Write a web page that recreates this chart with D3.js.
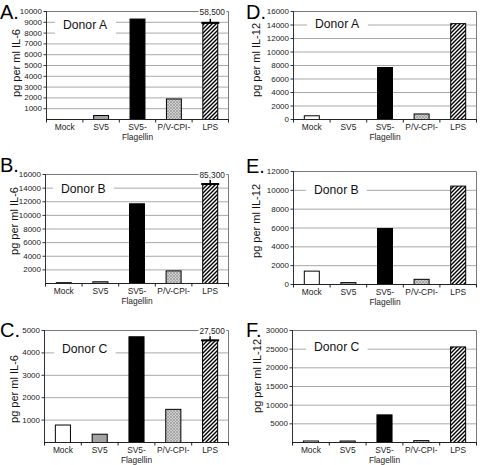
<!DOCTYPE html>
<html><head><meta charset="utf-8">
<script src="https://cdn.jsdelivr.net/npm/d3@7"></script>
<style>
body{margin:0;background:#fff}
svg{display:block;font-family:"Liberation Sans",Arial,Helvetica,sans-serif}
</style>
</head><body>
<script>
// ---------- data ----------
const categories = ["Mock", "SV5", "SV5-Flagellin", "P/V-CPI-", "LPS"];
const categoryLines = [["Mock"], ["SV5"], ["SV5-", "Flagellin"], ["P/V-CPI-"], ["LPS"]];
const donors = ["Donor A", "Donor B", "Donor C"];

const il6DonorA = [0, 370, 9300, 1900, 8950];
const il6DonorB = [120, 250, 11700, 1850, 14600];
const il6DonorC = [780, 370, 4720, 1480, 4560];
const il12DonorA = [550, 0, 7700, 820, 14200];
const il12DonorB = [1420, 200, 5950, 550, 10450];
const il12DonorC = [400, 400, 7400, 500, 25600];

const lpsTrueIL6 = ["58,500", "85,300", "27,500"];

const ticksIL6A = [1000, 2000, 3000, 4000, 5000, 6000, 7000, 8000, 9000, 10000];
const ticksIL6B = [2000, 4000, 6000, 8000, 10000, 12000, 14000, 16000];
const ticksIL6C = [1000, 2000, 3000, 4000, 5000];
const ticksIL12A = [0, 2000, 4000, 6000, 8000, 10000, 12000, 14000, 16000];
const ticksIL12B = [0, 2000, 4000, 6000, 8000, 10000, 12000];
const ticksIL12C = [5000, 10000, 15000, 20000, 25000, 30000];

const yTitles = ["pg per ml IL-6", "pg per ml IL-12"];
const panelLetters = ["A.", "B.", "C.", "D.", "E.", "F."];

// ---------- layout ----------
const panels = [
  {letter: panelLetters[0], values: il6DonorA, ticks: ticksIL6A, donor: donors[0], title: yTitles[0], brk: lpsTrueIL6[0],
   L: 46, R: 228, T: 11, B: 119, lx: 0, ly: 18.5, tx: 19.5, ty: 63, dx: 63, dy: 29},
  {letter: panelLetters[1], values: il6DonorB, ticks: ticksIL6B, donor: donors[1], title: yTitles[0], brk: lpsTrueIL6[1],
   L: 45, R: 228, T: 174, B: 283, lx: 0, ly: 172, tx: 18, ty: 221, dx: 61, dy: 193},
  {letter: panelLetters[2], values: il6DonorC, ticks: ticksIL6C, donor: donors[2], title: yTitles[0], brk: lpsTrueIL6[2],
   L: 44, R: 228, T: 330, B: 442, lx: 0, ly: 337, tx: 18, ty: 389, dx: 62, dy: 353},
  {letter: panelLetters[3], values: il12DonorA, ticks: ticksIL12A, donor: donors[0], title: yTitles[1], brk: null,
   L: 293, R: 476, T: 11, B: 119, lx: 246, ly: 18.5, tx: 260, ty: 60, dx: 315, dy: 28},
  {letter: panelLetters[4], values: il12DonorB, ticks: ticksIL12B, donor: donors[1], title: yTitles[1], brk: null,
   L: 293, R: 476, T: 171, B: 284, lx: 246, ly: 173, tx: 260, ty: 221, dx: 314, dy: 194},
  {letter: panelLetters[5], values: il12DonorC, ticks: ticksIL12C, donor: donors[2], title: yTitles[1], brk: null,
   L: 292, R: 476, T: 330, B: 442, lx: 246, ly: 337, tx: 261, ty: 376, dx: 314, dy: 351}
];

const svg = d3.select("body").append("svg").attr("width", 480).attr("height", 465);
const defs = svg.append("defs");

// LPS: white with black "/" stripes
const pLPS = defs.append("pattern").attr("id", "hatchLPS").attr("patternUnits", "userSpaceOnUse")
  .attr("width", 4).attr("height", 4);
pLPS.append("rect").attr("width", 4).attr("height", 4).attr("fill", "#fff");
pLPS.append("path").attr("d", "M-1,1 l2,-2 M0,4 l4,-4 M3,5 l2,-2")
  .attr("stroke", "#000").attr("stroke-width", 1.4);

// P/V-CPI-: light grey cross-hatch
const pPV = defs.append("pattern").attr("id", "hatchPV").attr("patternUnits", "userSpaceOnUse")
  .attr("width", 3).attr("height", 3);
pPV.append("rect").attr("width", 3).attr("height", 3).attr("fill", "#cfcfcf");
pPV.append("path").attr("d", "M0,0 L3,3 M3,0 L0,3")
  .attr("stroke", "#979797").attr("stroke-width", 0.7);

const fills = ["#ffffff", "#a3a3a3", "#000000", "url(#hatchPV)", "url(#hatchLPS)"];

panels.forEach(p => {
  const g = svg.append("g");
  const max = d3.max(p.ticks);
  const y = d3.scaleLinear().domain([0, max]).range([p.B, p.T]);
  const x = d3.scaleBand().domain(categories).range([p.L, p.R])
    .paddingInner(0.59).paddingOuter(0.295);
  const step = x.step();

  // gridlines
  g.append("g").selectAll("line").data(p.ticks.filter(t => t > 0 && t < max)).join("line")
    .attr("x1", p.L).attr("x2", p.R).attr("y1", d => y(d) + 0.5).attr("y2", d => y(d) + 0.5)
    .attr("stroke", "#a8a8a8").attr("stroke-width", 1);

  // frame (top and right)
  g.append("path")
    .attr("d", `M${p.L},${p.T + 0.5} H${p.R + 0.5} V${p.B}`)
    .attr("fill", "none").attr("stroke", "#7a7a7a").attr("stroke-width", 1);

  // donor label with white box
  const dt = g.append("text").attr("x", p.dx).attr("y", p.dy).attr("font-size", 12.2)
    .attr("fill", "#111").text(p.donor);
  const bb = dt.node().getBBox();
  g.insert("rect", "text").attr("x", bb.x - 8).attr("y", p.dy - 12).attr("width", bb.width + 16)
    .attr("height", 17).attr("fill", "#fff");

  // bars
  g.append("g").selectAll("rect").data(categories.map((c, i) => ({c, v: p.values[i], i})).filter(d => d.v > 0))
    .join("rect")
    .attr("x", d => x(d.c) + 0.5).attr("width", x.bandwidth())
    .attr("y", d => y(d.v) + 0.5).attr("height", d => p.B - y(d.v))
    .attr("fill", d => fills[d.i]).attr("stroke", "#000").attr("stroke-width", 1);

  // break marker + true value
  if (p.brk) {
    const c = categories[4];
    const cx = x(c) + x.bandwidth() / 2 + 0.5;
    const ty = y(p.values[4]) + 0.5;
    g.append("line").attr("x1", x(c) - 1).attr("x2", x(c) + x.bandwidth() + 2)
      .attr("y1", ty).attr("y2", ty).attr("stroke", "#000").attr("stroke-width", 2);
    g.append("line").attr("x1", cx).attr("x2", cx).attr("y1", ty).attr("y2", ty - 4)
      .attr("stroke", "#000").attr("stroke-width", 1.5);
    const lt = g.append("text").attr("x", cx + 2).attr("y", p.T + 3.5).attr("text-anchor", "middle")
      .attr("font-size", 8.3).attr("fill", "#222").text(p.brk);
    const lb = lt.node().getBBox();
    g.insert("rect", () => lt.node()).attr("x", lb.x - 1).attr("y", p.T - 3).attr("width", lb.width + 2)
      .attr("height", 6).attr("fill", "#fff");
  }

  // y axis
  const ya = g.append("g").attr("transform", `translate(${p.L + 0.5},0)`)
    .call(d3.axisLeft(y).tickValues(p.ticks).tickSize(3).tickPadding(1.5).tickFormat(d3.format("d")));
  ya.select(".domain").attr("d", `M-0,${p.T}V${p.B + 0.5}`).attr("stroke", "#333");
  ya.selectAll(".tick line").attr("stroke", "#333");
  ya.selectAll(".tick text").attr("font-size", 8).attr("fill", "#222")
    .attr("font-family", "'Liberation Sans',Arial,sans-serif");

  // x axis line + boundary ticks
  g.append("line").attr("x1", p.L).attr("x2", p.R + 1).attr("y1", p.B + 0.5).attr("y2", p.B + 0.5)
    .attr("stroke", "#222").attr("stroke-width", 1);
  g.append("g").selectAll("line").data(d3.range(categories.length + 1)).join("line")
    .attr("x1", i => p.L + 0.5 + i * step).attr("x2", i => p.L + 0.5 + i * step)
    .attr("y1", p.B).attr("y2", p.B + 3.5).attr("stroke", "#222");

  // category labels
  categories.forEach((c, i) => {
    const t = g.append("text").attr("x", x(c) + x.bandwidth() / 2 + 0.5).attr("y", p.B + 11)
      .attr("text-anchor", "middle").attr("font-size", 8.4).attr("fill", "#222");
    categoryLines[i].forEach((line, k) => {
      t.append("tspan").attr("x", x(c) + x.bandwidth() / 2 + 0.5).attr("dy", k === 0 ? 0 : 10).text(line);
    });
  });

  // y title
  g.append("text").attr("transform", `translate(${p.tx},${p.ty}) rotate(-90)`)
    .attr("text-anchor", "middle").attr("font-size", 11).attr("fill", "#111").text(p.title);

  // panel letter
  g.append("text").attr("x", p.lx).attr("y", p.ly).attr("font-size", 20).attr("fill", "#000").text(p.letter);
});
</script>
</body></html>
